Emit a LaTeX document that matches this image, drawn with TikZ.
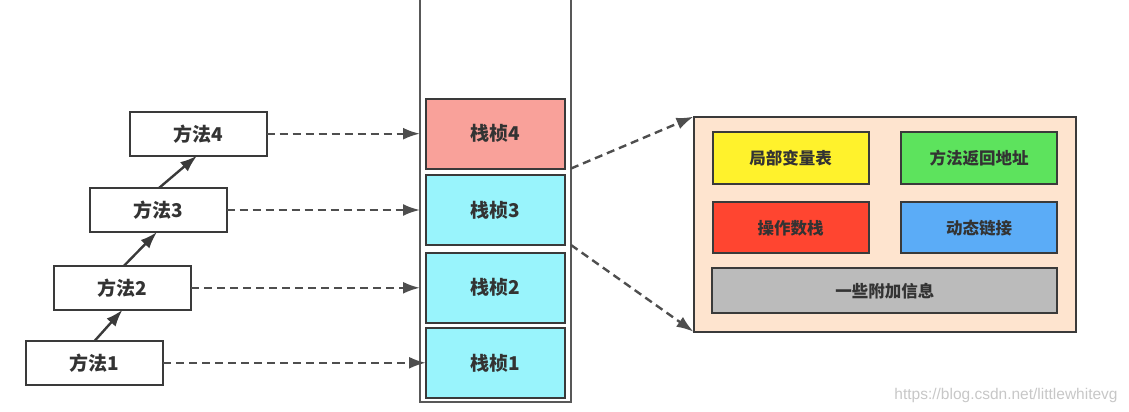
\documentclass[tikz,border=0pt]{standalone}
\usepackage{fontspec}
\setmainfont{Noto Sans CJK SC}
\newfontfamily\wmfont{Liberation Sans}
\usetikzlibrary{arrows.meta}
\definecolor{bord}{HTML}{3A3A3A}
\definecolor{txt}{HTML}{333333}
\definecolor{pinkf}{HTML}{F9A19A}
\definecolor{cyanf}{HTML}{99F4FC}
\definecolor{peach}{HTML}{FEE4CF}
\definecolor{yel}{HTML}{FFF22C}
\definecolor{grn}{HTML}{5DE35D}
\definecolor{redf}{HTML}{FF4530}
\definecolor{blu}{HTML}{5BACF7}
\definecolor{gry}{HTML}{BBBBBB}
\tikzset{
  box/.style={draw=bord, line width=2pt, inner sep=0pt, outer sep=0pt, text=txt, font=\bfseries\fontsize{19}{22}\selectfont},
  methbox/.style={box, fill=white, minimum width=137pt, minimum height=44pt},
  framebox/.style={box, minimum width=139pt, minimum height=70pt},
  partbox/.style={box, line width=2pt, font=\bfseries\fontsize{16.5}{19}\selectfont, minimum width=156pt, minimum height=52pt},
  uparrow/.style={draw=bord, line width=2.4pt, -{Latex[length=17pt,width=12pt]}},
  dasharrow/.style={draw=bord!90, line width=2.4pt, dash pattern=on 8pt off 5pt, -{Latex[length=17pt,width=12pt]}}
}
\begin{document}
\begin{tikzpicture}[x=1pt,y=-1pt]
\useasboundingbox (0,0) rectangle (1129,412);
% stack column
\node[inner sep=0pt, outer sep=0pt, minimum width=151pt, minimum height=402pt] (col) at (495.5,201) {};
\draw[draw=bord!85, line width=2pt] (col.north west) -- (col.south west) -- (col.south east) -- (col.north east);
% frames
\node[framebox, fill=pinkf] (f4) at (495.5,133.5) {栈桢4};
\node[framebox, fill=cyanf] (f3) at (495.5,210) {栈桢3};
\node[framebox, fill=cyanf] (f2) at (495.5,287.5) {栈桢2};
\node[framebox, fill=cyanf] (f1) at (495.5,363.3) {栈桢1};
% methods
\node[methbox] (m4) at (198,133.7) {方法4};
\node[methbox] (m3) at (158,210) {方法3};
\node[methbox] (m2) at (122.5,287.8) {方法2};
\node[methbox] (m1) at (94.7,362.8) {方法1};
\draw[uparrow] (m1.north) -- (m2.south);
\draw[uparrow] ([xshift=1.5pt]m2.north) -- ([xshift=-1pt]m3.south);
\draw[uparrow] ([xshift=1pt]m3.north) -- ([xshift=-1pt]m4.south);
\draw[dasharrow] (m4.east) -- (m4.east -| col.west);
\draw[dasharrow] (m3.east) -- (m3.east -| col.west);
\draw[dasharrow] (m2.east) -- (m2.east -| col.west);
\draw[dasharrow] (m1.east) -- (m1.east -| f1.west);
% detail box
\node[draw=bord, line width=2pt, fill=peach, inner sep=0pt, outer sep=0pt, minimum width=382pt, minimum height=215pt] (det) at (884.5,224.2) {};
\node[partbox, fill=yel] (lv) at (790.5,157.7) {局部变量表};
\node[partbox, fill=grn] (ra) at (979,157.7) {方法返回地址};
\node[partbox, fill=redf, minimum height=51pt] (os) at (790.5,227.8) {操作数栈};
\node[partbox, fill=blu, minimum height=51pt] (dl) at (979,227.8) {动态链接};
\node[partbox, fill=gry, minimum width=345pt, minimum height=45pt] (ex) at (884.8,290.8) {一些附加信息};
\coordinate (s4) at (col.east |- f4.south);
\coordinate (s3) at (col.east |- f3.south);
\draw[dasharrow] (s4) -- (det.north west);
\draw[dasharrow] (s3) -- (det.south west);
% watermark
\node[inner sep=0pt, text=black!22, font=\wmfont\fontsize{15.5}{18}\selectfont] (wm) at (1006,395) {https://blog.csdn.net/littlewhitevg};
\end{tikzpicture}
\end{document}
